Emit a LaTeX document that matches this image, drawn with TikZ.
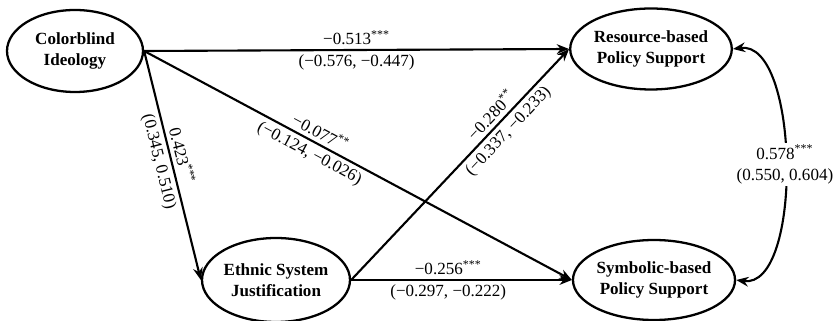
\documentclass[tikz,border=0pt]{standalone}
\usepackage{fontspec}
\setmainfont{Liberation Serif}
\usepackage{tikz}
\usetikzlibrary{arrows.meta,positioning,shapes.geometric}
\tikzset{
  >={Stealth[length=7pt,width=5.5pt]},
  lat/.style={ellipse,draw,line width=1.3pt,inner sep=0pt,align=center,
              font=\fontsize{9.7}{12}\selectfont\bfseries},
  ar/.style ={->,line width=1.2pt},
  est/.style={font=\fontsize{9.7}{12}\selectfont,inner sep=2.2pt},
}
\newcommand{\sig}[1]{\textsuperscript{#1}}

\begin{document}
\begin{tikzpicture}
\useasboundingbox (0,0) rectangle (16.66,-6.42);
\node[lat,minimum width=2.72cm,minimum height=1.64cm] (cb)  at (1.5,-1.02)  {Colorblind\\Ideology};
\node[lat,minimum width=2.64cm,minimum height=1.62cm] (res) at (13.02,-0.98) {Resource-based\\Policy Support};
\node[lat,minimum width=2.76cm,minimum height=1.68cm] (esj) at (5.52,-5.6)   {Ethnic System\\Justification};
\node[lat,minimum width=2.76cm,minimum height=1.6cm]  (sym) at (13.08,-5.6)  {Symbolic-based\\Policy Support};
\draw[ar] (cb.east) -- node[est,above]{−0.513\sig{***}} node[est,below]{(−0.576, −0.447)} (res.west);
\draw[ar] (cb.east) -- node[est,pos=.47,above,sloped]{0.423\sig{***}} node[est,pos=.47,below,sloped]{(0.345, 0.510)} (esj.west);
\draw[ar] (cb.east) -- node[est,pos=.4,above,sloped]{−0.077\sig{**}} node[est,pos=.4,below,sloped]{(−0.124, −0.026)} (sym.west);
\draw[ar] (esj.east) -- node[est,pos=.68,above,sloped]{−0.280\sig{**}} node[est,pos=.68,below,sloped]{(−0.337, −0.233)} (res.west);
\draw[ar] (esj.east) -- node[est,pos=.44,above]{−0.256\sig{***}} node[est,pos=.44,below]{(−0.297, −0.222)} (sym.west);
\draw[<->,line width=1.2pt] (res.east) to[out=8,in=-8,looseness=.75]
  node[est,fill=white,align=center,inner sep=1pt]{0.578\sig{***}\\(0.550, 0.604)} (sym.east);
\end{tikzpicture}
\end{document}
